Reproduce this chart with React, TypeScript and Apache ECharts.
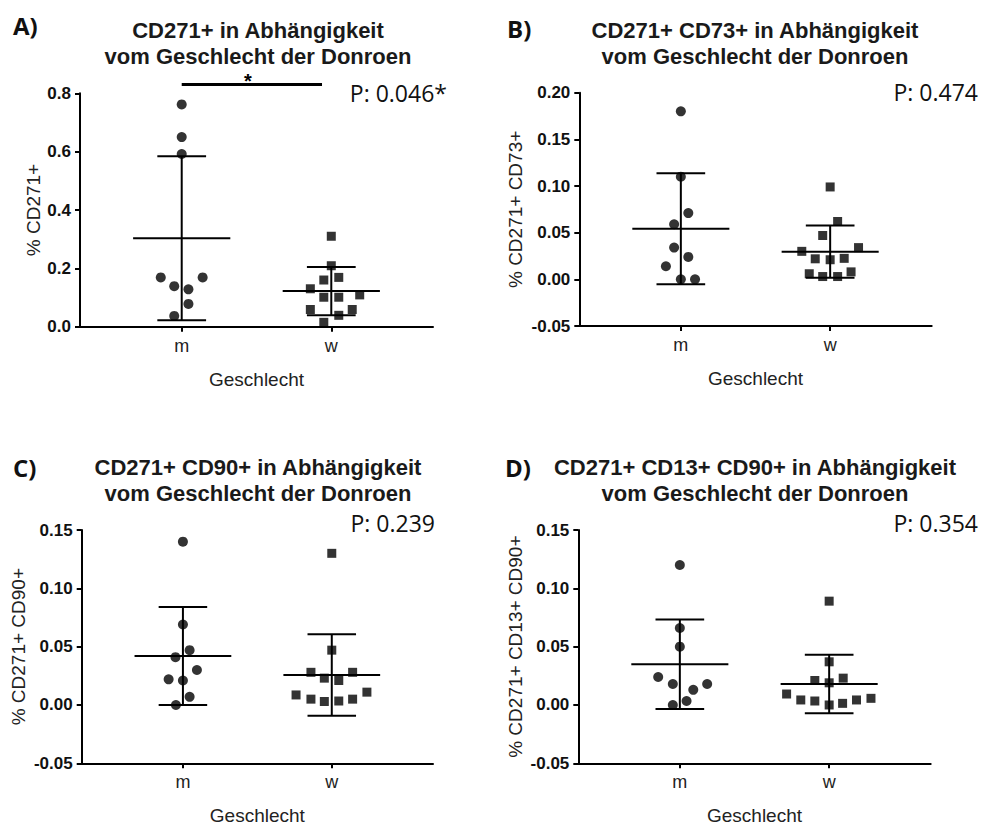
import React, { useEffect, useRef } from "react";
import * as echarts from "echarts";

// ---------- data ----------
const categories = ["m", "w"];
const axisLabelText = "Geschlecht";

// Panel A: % CD271+
const aM = [0.762, 0.65, 0.592, 0.169, 0.139, 0.128, 0.169, 0.078, 0.037];
const aMJit = [0, 0, 0, -0.14, -0.05, 0.045, 0.14, 0.045, -0.05];
const aW = [0.31, 0.209, 0.16, 0.169, 0.13, 0.101, 0.101, 0.109, 0.059, 0.059, 0.039, 0.015];
const aWJit = [0, 0, -0.05, 0.05, -0.14, -0.05, 0.05, 0.19, -0.14, 0.14, 0.05, -0.05];
const aMean = [0.303, 0.122];
const aSd = [0.281, 0.083];

// Panel B: % CD271+ CD73+
const bM = [0.18, 0.11, 0.071, 0.059, 0.034, 0.024, 0.014, 0.0, 0.0];
const bMJit = [0, 0, 0.05, -0.045, -0.045, 0.05, -0.1, 0, 0.095];
const bW = [0.099, 0.062, 0.047, 0.03, 0.034, 0.022, 0.021, 0.0225, 0.006, 0.008, 0.003, 0.003];
const bWJit = [0, 0.05, -0.05, -0.19, 0.19, -0.1, 0, 0.094, -0.14, 0.14, -0.05, 0.05];
const bMean = [0.0543, 0.0296];
const bSd = [0.0595, 0.028];

// Panel C: % CD271+ CD90+
const cM = [0.14, 0.069, 0.047, 0.041, 0.03, 0.022, 0.021, 0.007, 0.0];
const cMJit = [0, 0, 0.045, -0.05, 0.094, -0.096, 0, 0.045, -0.047];
const cW = [0.13, 0.047, 0.028, 0.028, 0.023, 0.021, 0.011, 0.0086, 0.005, 0.003, 0.0034, 0.005];
const cWJit = [0, 0, -0.14, 0.14, -0.05, 0.047, 0.236, -0.24, -0.14, -0.05, 0.047, 0.14];
const cMean = [0.042, 0.0257];
const cSd = [0.042, 0.035];

// Panel D: % CD271+ CD13+ CD90+
const dM = [0.12, 0.066, 0.05, 0.024, 0.018, 0.018, 0.013, 0.0034, 0.0];
const dMJit = [0, 0, 0, -0.145, -0.047, 0.183, 0.09, 0.045, -0.047];
const dW = [0.089, 0.037, 0.021, 0.023, 0.019, 0.0094, 0.0043, 0.0034, 0.0, 0.0014, 0.0043, 0.0057];
const dWJit = [0, 0, -0.096, 0.094, 0, -0.285, -0.19, -0.096, 0, 0.09, 0.183, 0.28];
const dMean = [0.0349, 0.018];
const dSd = [0.0383, 0.025];

const pValues = ["P: 0.046*", "P: 0.474", "P: 0.239", "P: 0.354"];
const panelLabels = ["A)", "B)", "C)", "D)"];
const titles = [
  "CD271+ in Abhängigkeit\nvom Geschlecht der Donroen",
  "CD271+ CD73+ in Abhängigkeit\nvom Geschlecht der Donroen",
  "CD271+ CD90+ in Abhängigkeit\nvom Geschlecht der Donroen",
  "CD271+ CD13+ CD90+ in Abhängigkeit\nvom Geschlecht der Donroen",
];
const yNames = ["% CD271+", "% CD271+ CD73+", "% CD271+ CD90+", "% CD271+ CD13+ CD90+"];
const yMins = [0, -0.05, -0.05, -0.05];
const yMaxs = [0.8, 0.2, 0.15, 0.15];
const yIntervals = [0.2, 0.05, 0.05, 0.05];
const yDecimals = [1, 2, 2, 2];

// significance bracket in panel A (data coords: from x, to x, y)
const bracketA = [1, 1.938, 0.83];
const bracketLabel = "*";

const panelData = [
  { m: aM, mJ: aMJit, w: aW, wJ: aWJit, mean: aMean, sd: aSd },
  { m: bM, mJ: bMJit, w: bW, wJ: bWJit, mean: bMean, sd: bSd },
  { m: cM, mJ: cMJit, w: cW, wJ: cWJit, mean: cMean, sd: cSd },
  { m: dM, mJ: dMJit, w: dW, wJ: dWJit, mean: dMean, sd: dSd },
];

// ---------- layout ----------
const layouts = [
  { left: 80, top: 93.3, width: 353, height: 233.4, nameGap: 37, titleX: 258, titleY: 17, labelX: 13, labelY: 25, pX: 447, pY: 93 },
  { left: 579.3, top: 92.7, width: 352.4, height: 233.3, nameGap: 54, titleX: 755, titleY: 17, labelX: 507, labelY: 28, pX: 978, pY: 92 },
  { left: 81.7, top: 530, width: 351.3, height: 233.3, nameGap: 54, titleX: 258, titleY: 454, labelX: 13, labelY: 467, pX: 435, pY: 523 },
  { left: 578.3, top: 530, width: 352.4, height: 233.3, nameGap: 53, titleX: 755, titleY: 454, labelX: 505, labelY: 467, pX: 978, pY: 523 },
];

const SANS = "'Liberation Sans', Arial, sans-serif";
const MEAN_HALF = 0.325;
const CAP_HALF = 0.163;

function buildOption() {
  const grid: any[] = [];
  const xAxis: any[] = [];
  const yAxis: any[] = [];
  const series: any[] = [];
  const title: any[] = [];
  const graphic: any[] = [];

  layouts.forEach((L, i) => {
    const D = panelData[i];
    grid.push({ left: L.left, top: L.top, width: L.width, height: L.height, containLabel: false });
    xAxis.push({
      type: "value",
      gridIndex: i,
      min: 0.32,
      max: 2.68,
      name: axisLabelText,
      nameLocation: "middle",
      nameGap: 43,
      nameTextStyle: { fontSize: 19, color: "#222", fontFamily: SANS },
      axisLine: { show: true, onZero: false, lineStyle: { color: "#000", width: 2 } },
      axisTick: { show: true, length: 5, customValues: [1, 2], lineStyle: { color: "#000", width: 2 } },
      axisLabel: {
        show: true,
        customValues: [1, 2],
        formatter: (v: number) => categories[Math.round(v) - 1] ?? "",
        fontSize: 18,
        color: "#222",
        margin: 10,
        fontFamily: SANS,
      },
      splitLine: { show: false },
    });
    yAxis.push({
      type: "value",
      gridIndex: i,
      min: yMins[i],
      max: yMaxs[i],
      interval: yIntervals[i],
      name: yNames[i],
      nameLocation: "middle",
      nameRotate: 90,
      nameGap: L.nameGap,
      nameTextStyle: { fontSize: 19, color: "#222", fontFamily: SANS },
      axisLine: { show: true, onZero: false, lineStyle: { color: "#000", width: 2 } },
      axisTick: { show: true, length: 5, lineStyle: { color: "#000", width: 2 } },
      axisLabel: {
        formatter: (v: number) => v.toFixed(yDecimals[i]),
        fontSize: 17,
        fontWeight: "bold",
        color: "#111",
        margin: 9,
        fontFamily: SANS,
      },
      splitLine: { show: false },
    });

    series.push({
      type: "scatter",
      xAxisIndex: i,
      yAxisIndex: i,
      symbol: "circle",
      symbolSize: 10,
      itemStyle: { color: "#000" },
      clip: false,
      silent: true,
      data: D.m.map((v, k) => [1 + D.mJ[k], v]),
    });
    series.push({
      type: "scatter",
      xAxisIndex: i,
      yAxisIndex: i,
      symbol: "rect",
      symbolSize: 9,
      itemStyle: { color: "#000" },
      clip: false,
      silent: true,
      data: D.w.map((v, k) => [2 + D.wJ[k], v]),
    });
    series.push({
      type: "custom",
      xAxisIndex: i,
      yAxisIndex: i,
      silent: true,
      clip: false,
      data: D.mean.map((mu, k) => [k + 1, mu, D.sd[k]]),
      renderItem: (_p: any, api: any) => {
        const x = api.value(0);
        const mu = api.value(1);
        const s = api.value(2);
        const c = (a: number, b: number) => api.coord([a, b]);
        const style = { stroke: "#000", lineWidth: 2 };
        const seg = (p1: number[], p2: number[]) => ({
          type: "line",
          shape: { x1: p1[0], y1: p1[1], x2: p2[0], y2: p2[1] },
          style,
        });
        return {
          type: "group",
          children: [
            seg(c(x - MEAN_HALF, mu), c(x + MEAN_HALF, mu)),
            seg(c(x, mu + s), c(x, mu - s)),
            seg(c(x - CAP_HALF, mu + s), c(x + CAP_HALF, mu + s)),
            seg(c(x - CAP_HALF, mu - s), c(x + CAP_HALF, mu - s)),
          ],
        };
      },
    });

    if (i === 0) {
      series.push({
        type: "custom",
        xAxisIndex: 0,
        yAxisIndex: 0,
        silent: true,
        clip: false,
        data: [bracketA],
        renderItem: (_p: any, api: any) => {
          const p1 = api.coord([api.value(0), api.value(2)]);
          const p2 = api.coord([api.value(1), api.value(2)]);
          return {
            type: "group",
            children: [
              {
                type: "line",
                shape: { x1: p1[0], y1: p1[1], x2: p2[0], y2: p2[1] },
                style: { stroke: "#000", lineWidth: 3 },
              },
              {
                type: "text",
                x: (p1[0] + p2[0]) / 2 - 4,
                y: p1[1] - 14,
                style: {
                  text: bracketLabel,
                  fontSize: 20,
                  fontWeight: "bold",
                  fontFamily: SANS,
                  fill: "#000",
                  align: "center",
                  verticalAlign: "top",
                },
              },
            ],
          };
        },
      });
    }

    title.push({
      text: titles[i],
      left: L.titleX,
      top: L.titleY,
      textAlign: "center",
      padding: 0,
      textStyle: { fontSize: 22, fontWeight: "bold", lineHeight: 26, color: "#1a1a1a", fontFamily: SANS },
    });

    graphic.push({
      type: "text",
      x: L.labelX,
      y: L.labelY,
      style: {
        text: panelLabels[i],
        fontSize: 24,
        fontWeight: "bold",
        fontFamily: "'Open Sans', sans-serif",
        fill: "#111",
        align: "left",
        verticalAlign: "middle",
      },
    });
    graphic.push({
      type: "text",
      x: L.pX,
      y: L.pY,
      style: {
        text: pValues[i],
        fontSize: 23,
        fontFamily: "'Open Sans', sans-serif",
        fill: "#111",
        align: "right",
        verticalAlign: "middle",
      },
    });
  });

  return {
    animation: false,
    backgroundColor: "#fff",
    title,
    grid,
    xAxis,
    yAxis,
    series,
    graphic,
  };
}

export default function App() {
  const ref = useRef<HTMLDivElement>(null);
  useEffect(() => {
    document.body.style.margin = "0";
    if (!ref.current) return;
    const chart = echarts.init(ref.current, null, { renderer: "svg" });
    chart.setOption(buildOption() as any);
    return () => chart.dispose();
  }, []);
  return <div ref={ref} style={{ width: 984, height: 827, background: "#fff" }} />;
}
